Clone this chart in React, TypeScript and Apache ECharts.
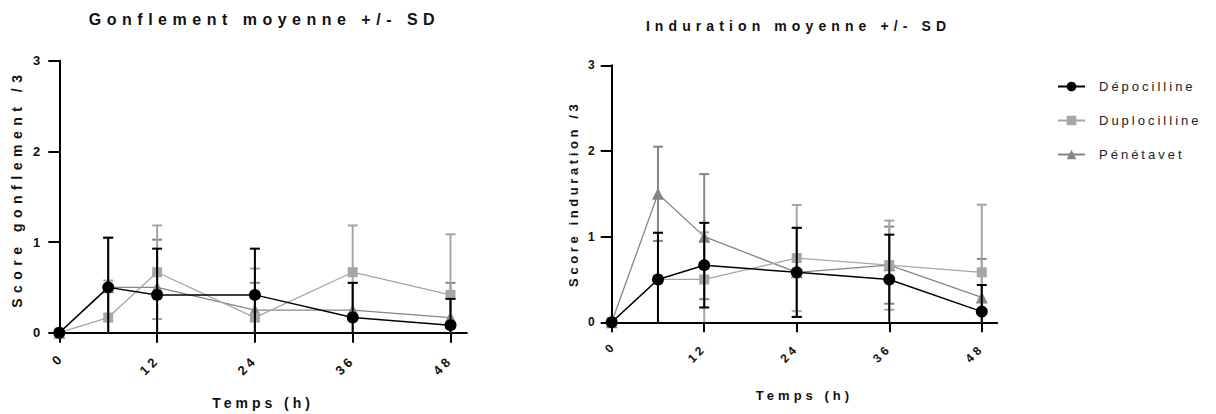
import React, { useEffect, useRef } from 'react';
import * as echarts from 'echarts';

// ---------- data ----------
const HOURS = [0, 6, 12, 24, 36, 48];
const X_TICKS = [0, 12, 24, 36, 48];
const SERIES_NAMES = ['Dépocilline', 'Duplocilline', 'Pénétavet'];
const TITLES = ['Gonflement moyenne +/- SD', 'Induration moyenne +/- SD'];
const Y_NAMES = ['Score gonflement /3', 'Score induration /3'];
const X_NAME = 'Temps (h)';

// Gonflement (swelling)
const gonfDepoMean = [0, 0.5, 0.417, 0.417, 0.167, 0.083];
const gonfDepoSD = [0, 0.548, 0.51, 0.51, 0.383, 0.29];
const gonfDuploMean = [0, 0.167, 0.667, 0.167, 0.667, 0.417];
const gonfDuploSD = [0, 0.408, 0.516, 0.54, 0.516, 0.668];
const gonfPenMean = [0, 0.5, 0.5, 0.25, 0.25, 0.167];
const gonfPenSD = [0, 0.548, 0.526, 0.3, 0.3, 0.383];

// Induration
const indDepoMean = [0, 0.5, 0.667, 0.583, 0.5, 0.125];
const indDepoSD = [0, 0.545, 0.494, 0.52, 0.523, 0.31];
const indDuploMean = [0, 0.5, 0.5, 0.75, 0.667, 0.583];
const indDuploSD = [0, 0.545, 0.55, 0.62, 0.52, 0.79];
const indPenMean = [0, 1.5, 1.0, 0.583, 0.667, 0.29];
const indPenSD = [0, 0.55, 0.73, 0.52, 0.45, 0.45];

const PANELS = [
  { means: [gonfDepoMean, gonfDuploMean, gonfPenMean], sds: [gonfDepoSD, gonfDuploSD, gonfPenSD] },
  { means: [indDepoMean, indDuploMean, indPenMean], sds: [indDepoSD, indDuploSD, indPenSD] },
];

// ---------- styles ----------
const FONT = '"Liberation Sans", Arial, sans-serif';
const COLORS = ['#000000', '#a6a6a6', '#858585'];
const SYMBOLS = ['circle', 'rect', 'triangle'];
const SYMBOL_SIZES = [12, 10, 12];
const LINE_WIDTHS = [1.5, 1.3, 1.3];
const Z_ORDER = [6, 4, 2];

const LAYOUT = [
  { left: 59.3, top: 60.7, width: 407.5, height: 272, labelMargin: 25, yLabelMargin: 19, nameGapX: 63, nameGapY: 35, yNamePad: [0, 0, 0, 16], tickFont: 13, nameFont: 14, yNameFont: 14, titleX: 264.5, titleY: 19, titleFont: 16 },
  { left: 611.7, top: 65.3, width: 385.5, height: 257, labelMargin: 24, yLabelMargin: 17, nameGapX: 67, nameGapY: 32, yNamePad: [0, 0, 0, 0], tickFont: 12, nameFont: 13, yNameFont: 13, titleX: 798.5, titleY: 26, titleFont: 14 },
];

const SPACING: Record<string, number> = {
  'Gonflement moyenne +/- SD': 5.5,
  'Induration moyenne +/- SD': 5.1,
  'Score gonflement /3': 5.5,
  'Score induration /3': 3.6,
  'Temps (h)': 4,
  'Dépocilline': 3,
  'Duplocilline': 3,
  'Pénétavet': 3,
  '12': 3.5,
  '24': 3.5,
  '36': 3.5,
  '48': 3.5,
};

function buildOption() {
  const grid: any[] = [];
  const xAxis: any[] = [];
  const yAxis: any[] = [];
  const series: any[] = [];
  const graphic: any[] = [];

  LAYOUT.forEach((L, g) => {
    grid.push({
      left: L.left,
      top: L.top,
      width: L.width,
      height: L.height,
      containLabel: false,
      outerBoundsMode: 'none',
    });
    xAxis.push({
      type: 'value',
      gridIndex: g,
      min: 0,
      max: 50,
      interval: 12,
      name: X_NAME,
      nameLocation: 'middle',
      nameGap: L.nameGapX,
      nameMoveOverlap: false,
      nameTextStyle: { fontFamily: FONT, fontWeight: 'bold', fontSize: L.nameFont, color: '#111' },
      axisLine: { onZero: false, lineStyle: { color: '#000', width: 2 } },
      axisTick: { show: true, length: 10, lineStyle: { color: '#000', width: 2 }, customValues: X_TICKS },
      axisLabel: {
        customValues: X_TICKS,
        rotate: 45,
        margin: L.labelMargin,
        fontFamily: FONT,
        fontWeight: 'bold',
        fontSize: L.tickFont,
        color: '#111',
      },
      splitLine: { show: false },
    });
    yAxis.push({
      type: 'value',
      gridIndex: g,
      min: 0,
      max: 3,
      interval: 1,
      name: Y_NAMES[g],
      nameLocation: 'middle',
      nameRotate: 90,
      nameGap: L.nameGapY,
      nameMoveOverlap: false,
      nameTextStyle: {
        fontFamily: FONT,
        fontWeight: 'bold',
        fontSize: L.yNameFont,
        color: '#111',
        padding: L.yNamePad,
      },
      axisLine: { show: true, onZero: false, lineStyle: { color: '#000', width: 2 } },
      axisTick: { show: true, length: 11, lineStyle: { color: '#000', width: 2 } },
      axisLabel: { margin: L.yLabelMargin, fontFamily: FONT, fontWeight: 'bold', fontSize: L.tickFont, color: '#111' },
      splitLine: { show: false },
    });
    graphic.push({
      type: 'text',
      x: L.titleX,
      y: L.titleY,
      silent: true,
      style: {
        text: TITLES[g],
        fontFamily: FONT,
        fontWeight: 'bold',
        fontSize: L.titleFont,
        fill: '#111',
        align: 'center',
        verticalAlign: 'middle',
      },
    });

    const P = PANELS[g];
    SERIES_NAMES.forEach((name, s) => {
      const mean = P.means[s];
      const sd = P.sds[s];
      const color = COLORS[s];
      series.push({
        type: 'custom',
        name: name + ' SD',
        xAxisIndex: g,
        yAxisIndex: g,
        silent: true,
        clip: false,
        z: Z_ORDER[s],
        data: HOURS.map((t, i) => [t, mean[i] - sd[i], mean[i] + sd[i]]),
        encode: { x: 0, y: [1, 2] },
        renderItem: (params: any, api: any) => {
          const t = api.value(0);
          const lo = api.value(1);
          const hi = api.value(2);
          if (hi - lo <= 1e-9) return { type: 'group', children: [] };
          const x = api.coord([t, 0])[0];
          const yHi = api.coord([t, hi])[1];
          const yLo = api.coord([t, Math.max(0, lo)])[1];
          const cap = 5;
          const st = { stroke: color, lineWidth: 2 };
          const children: any[] = [
            { type: 'line', shape: { x1: x, y1: yLo, x2: x, y2: yHi }, style: st },
            { type: 'line', shape: { x1: x - cap, y1: yHi, x2: x + cap, y2: yHi }, style: st },
          ];
          if (lo > 0.001) {
            children.push({ type: 'line', shape: { x1: x - cap, y1: yLo, x2: x + cap, y2: yLo }, style: st });
          }
          return { type: 'group', children };
        },
      });
      series.push({
        type: 'line',
        name,
        xAxisIndex: g,
        yAxisIndex: g,
        silent: true,
        z: Z_ORDER[s] + 1,
        data: HOURS.map((t, i) => [t, mean[i]]),
        symbol: SYMBOLS[s],
        symbolSize: SYMBOL_SIZES[s],
        showSymbol: true,
        lineStyle: { color, width: LINE_WIDTHS[s] },
        itemStyle: { color, opacity: 1 },
        emphasis: { disabled: true },
      });
    });
  });

  return {
    animation: false,
    backgroundColor: '#ffffff',
    grid,
    xAxis,
    yAxis,
    series,
    graphic,
    tooltip: { show: false },
    legend: {
      data: SERIES_NAMES,
      orient: 'vertical',
      left: 1052,
      top: 75,
      itemWidth: 27,
      itemHeight: 12,
      itemGap: 21,
      selectedMode: false,
      textStyle: { fontFamily: FONT, fontSize: 13, color: '#222', padding: [0, 0, 0, 9] },
    },
  };
}

export default function App() {
  const ref = useRef<HTMLDivElement>(null);
  useEffect(() => {
    if (!ref.current) return;
    const prevMargin = document.body.style.margin;
    document.body.style.margin = '0';
    const chart = echarts.init(ref.current, null, { renderer: 'svg' });
    chart.setOption(buildOption() as any);
    const applySpacing = () => {
      if (!ref.current) return;
      ref.current.querySelectorAll('text').forEach((el) => {
        const key = (el.textContent || '').trim();
        const s = SPACING[key];
        if (s != null) el.setAttribute('letter-spacing', String(s));
      });
    };
    applySpacing();
    chart.on('finished', applySpacing);
    const raf = requestAnimationFrame(applySpacing);
    const tm = setTimeout(applySpacing, 50);
    return () => {
      cancelAnimationFrame(raf);
      clearTimeout(tm);
      chart.dispose();
      document.body.style.margin = prevMargin;
    };
  }, []);
  return <div ref={ref} style={{ width: 1216, height: 414, background: '#fff' }} />;
}
